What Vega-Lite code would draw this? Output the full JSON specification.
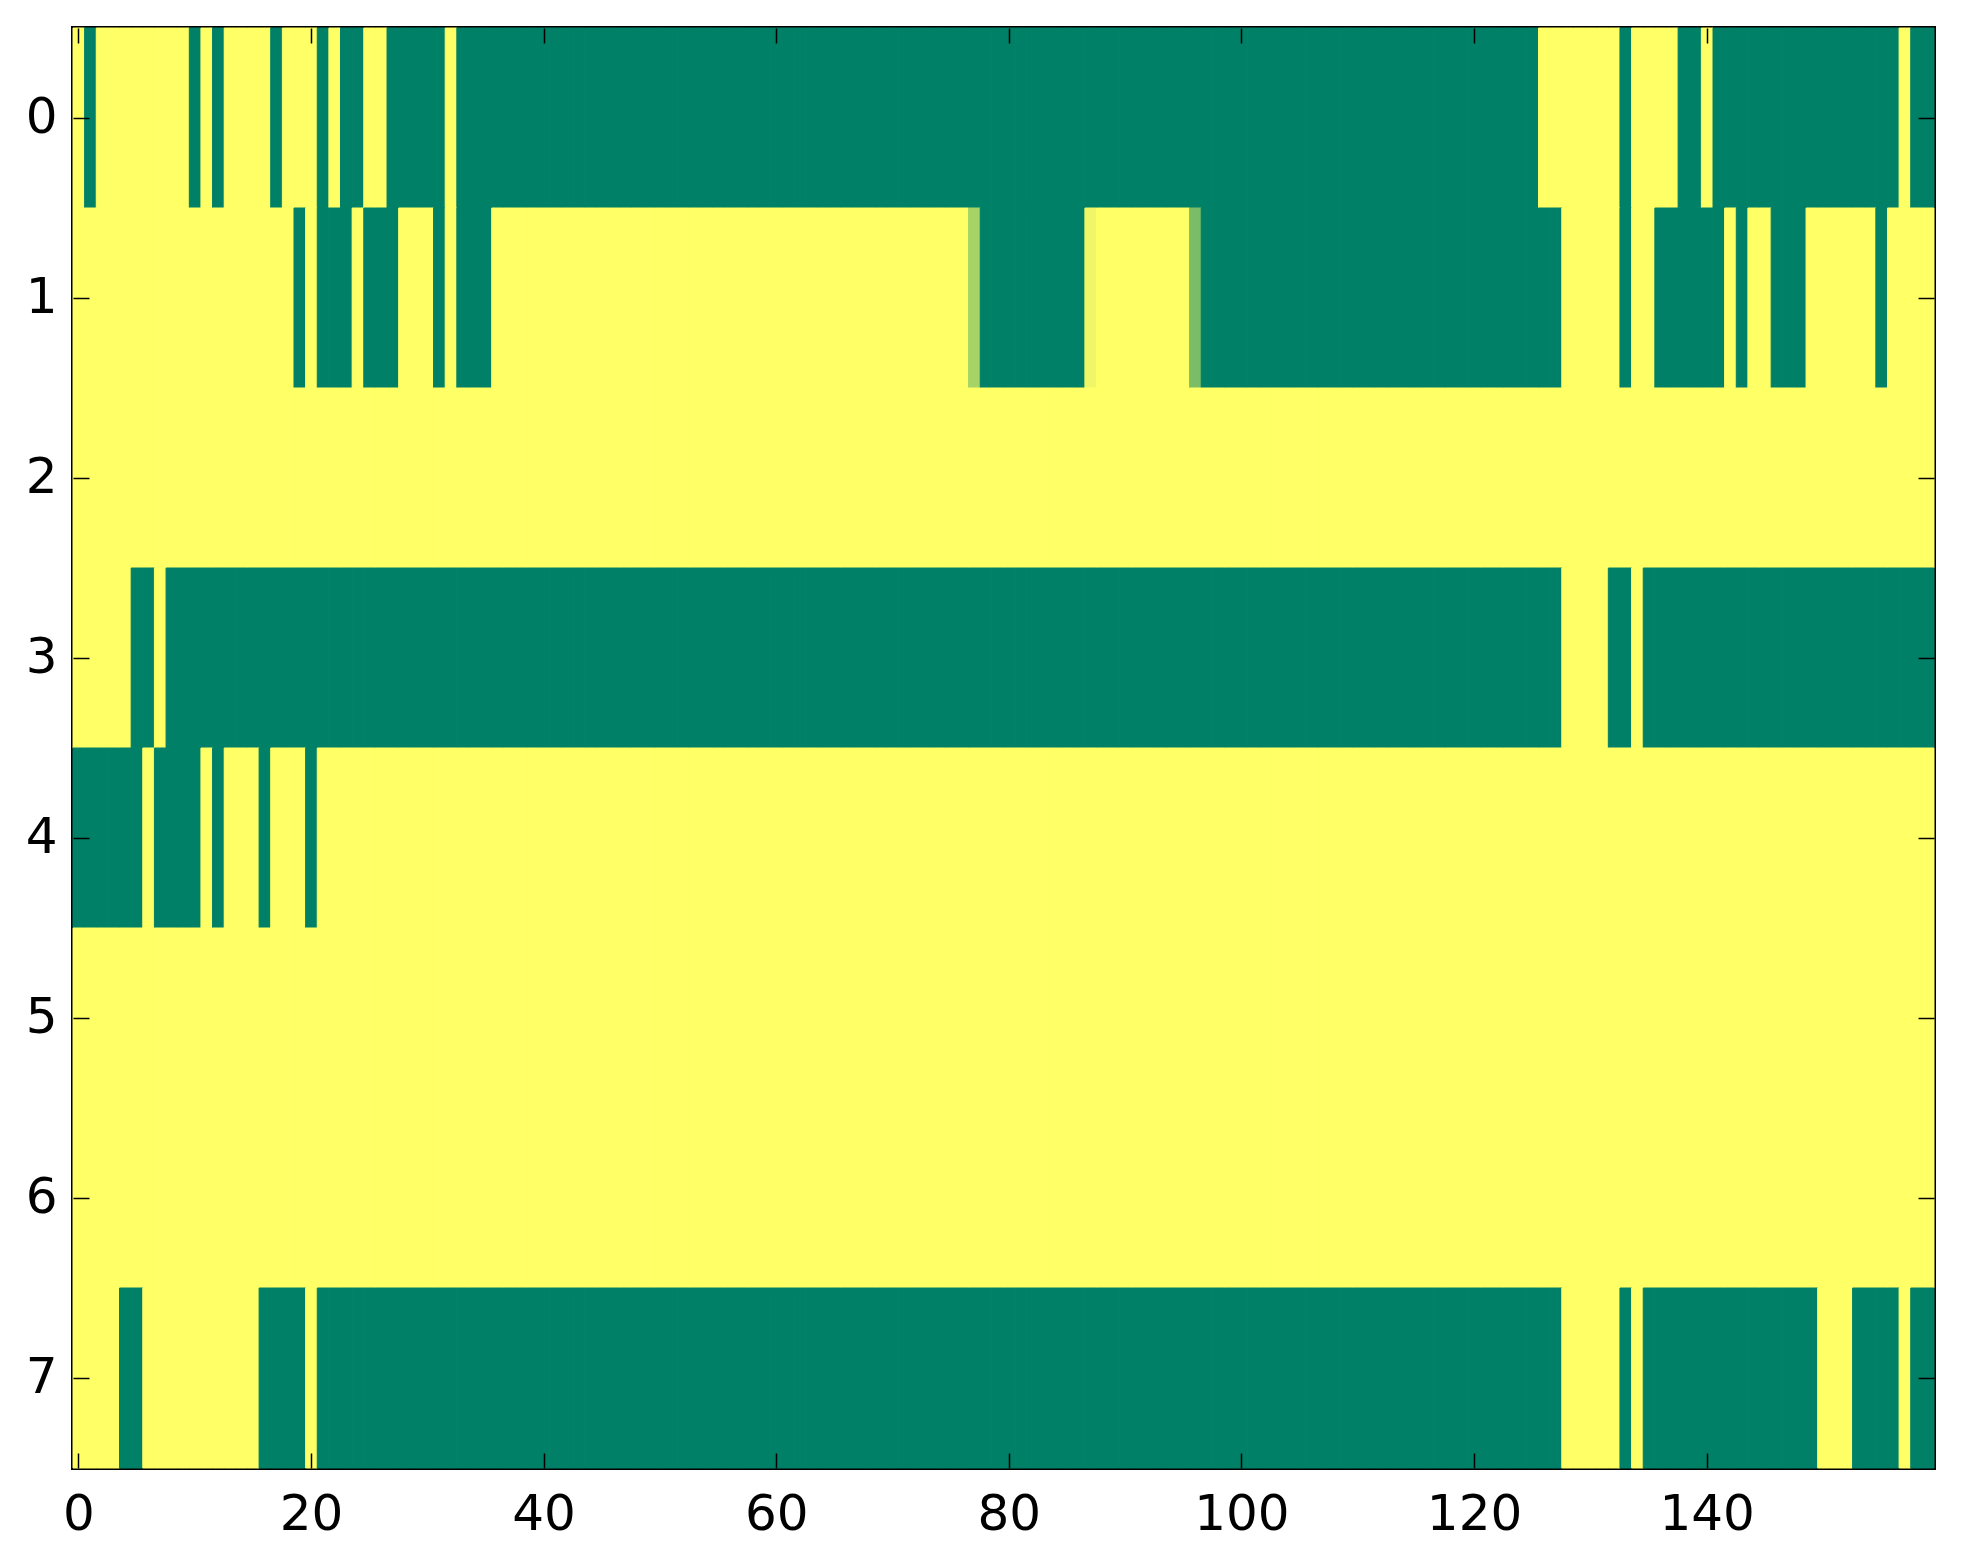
{
  "$schema": "https://vega.github.io/schema/vega-lite/v6.json",
  "width": 1861,
  "height": 1440,
  "autosize": "none",
  "padding": {"left": 73, "top": 28, "right": 29, "bottom": 96},
  "background": "white",
  "data": {"values": [
{"r":0,"c":0,"v":1},{"r":0,"c":1,"v":0},{"r":0,"c":2,"v":1},{"r":0,"c":3,"v":1},{"r":0,"c":4,"v":1},{"r":0,"c":5,"v":1},{"r":0,"c":6,"v":1},{"r":0,"c":7,"v":1},{"r":0,"c":8,"v":1},{"r":0,"c":9,"v":1},
{"r":0,"c":10,"v":0},{"r":0,"c":11,"v":1},{"r":0,"c":12,"v":0},{"r":0,"c":13,"v":1},{"r":0,"c":14,"v":1},{"r":0,"c":15,"v":1},{"r":0,"c":16,"v":1},{"r":0,"c":17,"v":0},{"r":0,"c":18,"v":1},{"r":0,"c":19,"v":1},
{"r":0,"c":20,"v":1},{"r":0,"c":21,"v":0},{"r":0,"c":22,"v":1},{"r":0,"c":23,"v":0},{"r":0,"c":24,"v":0},{"r":0,"c":25,"v":1},{"r":0,"c":26,"v":1},{"r":0,"c":27,"v":0},{"r":0,"c":28,"v":0},{"r":0,"c":29,"v":0},
{"r":0,"c":30,"v":0},{"r":0,"c":31,"v":0},{"r":0,"c":32,"v":1},{"r":0,"c":33,"v":0},{"r":0,"c":34,"v":0},{"r":0,"c":35,"v":0},{"r":0,"c":36,"v":0},{"r":0,"c":37,"v":0},{"r":0,"c":38,"v":0},{"r":0,"c":39,"v":0},
{"r":0,"c":40,"v":0},{"r":0,"c":41,"v":0},{"r":0,"c":42,"v":0},{"r":0,"c":43,"v":0},{"r":0,"c":44,"v":0},{"r":0,"c":45,"v":0},{"r":0,"c":46,"v":0},{"r":0,"c":47,"v":0},{"r":0,"c":48,"v":0},{"r":0,"c":49,"v":0},
{"r":0,"c":50,"v":0},{"r":0,"c":51,"v":0},{"r":0,"c":52,"v":0},{"r":0,"c":53,"v":0},{"r":0,"c":54,"v":0},{"r":0,"c":55,"v":0},{"r":0,"c":56,"v":0},{"r":0,"c":57,"v":0},{"r":0,"c":58,"v":0},{"r":0,"c":59,"v":0},
{"r":0,"c":60,"v":0},{"r":0,"c":61,"v":0},{"r":0,"c":62,"v":0},{"r":0,"c":63,"v":0},{"r":0,"c":64,"v":0},{"r":0,"c":65,"v":0},{"r":0,"c":66,"v":0},{"r":0,"c":67,"v":0},{"r":0,"c":68,"v":0},{"r":0,"c":69,"v":0},
{"r":0,"c":70,"v":0},{"r":0,"c":71,"v":0},{"r":0,"c":72,"v":0},{"r":0,"c":73,"v":0},{"r":0,"c":74,"v":0},{"r":0,"c":75,"v":0},{"r":0,"c":76,"v":0},{"r":0,"c":77,"v":0},{"r":0,"c":78,"v":0},{"r":0,"c":79,"v":0},
{"r":0,"c":80,"v":0},{"r":0,"c":81,"v":0},{"r":0,"c":82,"v":0},{"r":0,"c":83,"v":0},{"r":0,"c":84,"v":0},{"r":0,"c":85,"v":0},{"r":0,"c":86,"v":0},{"r":0,"c":87,"v":0},{"r":0,"c":88,"v":0},{"r":0,"c":89,"v":0},
{"r":0,"c":90,"v":0},{"r":0,"c":91,"v":0},{"r":0,"c":92,"v":0},{"r":0,"c":93,"v":0},{"r":0,"c":94,"v":0},{"r":0,"c":95,"v":0},{"r":0,"c":96,"v":0},{"r":0,"c":97,"v":0},{"r":0,"c":98,"v":0},{"r":0,"c":99,"v":0},
{"r":0,"c":100,"v":0},{"r":0,"c":101,"v":0},{"r":0,"c":102,"v":0},{"r":0,"c":103,"v":0},{"r":0,"c":104,"v":0},{"r":0,"c":105,"v":0},{"r":0,"c":106,"v":0},{"r":0,"c":107,"v":0},{"r":0,"c":108,"v":0},{"r":0,"c":109,"v":0},
{"r":0,"c":110,"v":0},{"r":0,"c":111,"v":0},{"r":0,"c":112,"v":0},{"r":0,"c":113,"v":0},{"r":0,"c":114,"v":0},{"r":0,"c":115,"v":0},{"r":0,"c":116,"v":0},{"r":0,"c":117,"v":0},{"r":0,"c":118,"v":0},{"r":0,"c":119,"v":0},
{"r":0,"c":120,"v":0},{"r":0,"c":121,"v":0},{"r":0,"c":122,"v":0},{"r":0,"c":123,"v":0},{"r":0,"c":124,"v":0},{"r":0,"c":125,"v":0},{"r":0,"c":126,"v":1},{"r":0,"c":127,"v":1},{"r":0,"c":128,"v":1},{"r":0,"c":129,"v":1},
{"r":0,"c":130,"v":1},{"r":0,"c":131,"v":1},{"r":0,"c":132,"v":1},{"r":0,"c":133,"v":0},{"r":0,"c":134,"v":1},{"r":0,"c":135,"v":1},{"r":0,"c":136,"v":1},{"r":0,"c":137,"v":1},{"r":0,"c":138,"v":0},{"r":0,"c":139,"v":0},
{"r":0,"c":140,"v":1},{"r":0,"c":141,"v":0},{"r":0,"c":142,"v":0},{"r":0,"c":143,"v":0},{"r":0,"c":144,"v":0},{"r":0,"c":145,"v":0},{"r":0,"c":146,"v":0},{"r":0,"c":147,"v":0},{"r":0,"c":148,"v":0},{"r":0,"c":149,"v":0},
{"r":0,"c":150,"v":0},{"r":0,"c":151,"v":0},{"r":0,"c":152,"v":0},{"r":0,"c":153,"v":0},{"r":0,"c":154,"v":0},{"r":0,"c":155,"v":0},{"r":0,"c":156,"v":0},{"r":0,"c":157,"v":1},{"r":0,"c":158,"v":0},{"r":0,"c":159,"v":0},
{"r":1,"c":0,"v":1},{"r":1,"c":1,"v":1},{"r":1,"c":2,"v":1},{"r":1,"c":3,"v":1},{"r":1,"c":4,"v":1},{"r":1,"c":5,"v":1},{"r":1,"c":6,"v":1},{"r":1,"c":7,"v":1},{"r":1,"c":8,"v":1},{"r":1,"c":9,"v":1},
{"r":1,"c":10,"v":1},{"r":1,"c":11,"v":1},{"r":1,"c":12,"v":1},{"r":1,"c":13,"v":1},{"r":1,"c":14,"v":1},{"r":1,"c":15,"v":1},{"r":1,"c":16,"v":1},{"r":1,"c":17,"v":1},{"r":1,"c":18,"v":1},{"r":1,"c":19,"v":0},
{"r":1,"c":20,"v":1},{"r":1,"c":21,"v":0},{"r":1,"c":22,"v":0},{"r":1,"c":23,"v":0},{"r":1,"c":24,"v":1},{"r":1,"c":25,"v":0},{"r":1,"c":26,"v":0},{"r":1,"c":27,"v":0},{"r":1,"c":28,"v":1},{"r":1,"c":29,"v":1},
{"r":1,"c":30,"v":1},{"r":1,"c":31,"v":0},{"r":1,"c":32,"v":1},{"r":1,"c":33,"v":0},{"r":1,"c":34,"v":0},{"r":1,"c":35,"v":0},{"r":1,"c":36,"v":1},{"r":1,"c":37,"v":1},{"r":1,"c":38,"v":1},{"r":1,"c":39,"v":1},
{"r":1,"c":40,"v":1},{"r":1,"c":41,"v":1},{"r":1,"c":42,"v":1},{"r":1,"c":43,"v":1},{"r":1,"c":44,"v":1},{"r":1,"c":45,"v":1},{"r":1,"c":46,"v":1},{"r":1,"c":47,"v":1},{"r":1,"c":48,"v":1},{"r":1,"c":49,"v":1},
{"r":1,"c":50,"v":1},{"r":1,"c":51,"v":1},{"r":1,"c":52,"v":1},{"r":1,"c":53,"v":1},{"r":1,"c":54,"v":1},{"r":1,"c":55,"v":1},{"r":1,"c":56,"v":1},{"r":1,"c":57,"v":1},{"r":1,"c":58,"v":1},{"r":1,"c":59,"v":1},
{"r":1,"c":60,"v":1},{"r":1,"c":61,"v":1},{"r":1,"c":62,"v":1},{"r":1,"c":63,"v":1},{"r":1,"c":64,"v":1},{"r":1,"c":65,"v":1},{"r":1,"c":66,"v":1},{"r":1,"c":67,"v":1},{"r":1,"c":68,"v":1},{"r":1,"c":69,"v":1},
{"r":1,"c":70,"v":1},{"r":1,"c":71,"v":1},{"r":1,"c":72,"v":1},{"r":1,"c":73,"v":1},{"r":1,"c":74,"v":1},{"r":1,"c":75,"v":1},{"r":1,"c":76,"v":1},{"r":1,"c":77,"v":0.65},{"r":1,"c":78,"v":0},{"r":1,"c":79,"v":0},
{"r":1,"c":80,"v":0},{"r":1,"c":81,"v":0},{"r":1,"c":82,"v":0},{"r":1,"c":83,"v":0},{"r":1,"c":84,"v":0},{"r":1,"c":85,"v":0},{"r":1,"c":86,"v":0},{"r":1,"c":87,"v":0.94},{"r":1,"c":88,"v":1},{"r":1,"c":89,"v":1},
{"r":1,"c":90,"v":1},{"r":1,"c":91,"v":1},{"r":1,"c":92,"v":1},{"r":1,"c":93,"v":1},{"r":1,"c":94,"v":1},{"r":1,"c":95,"v":1},{"r":1,"c":96,"v":0.48},{"r":1,"c":97,"v":0},{"r":1,"c":98,"v":0},{"r":1,"c":99,"v":0},
{"r":1,"c":100,"v":0},{"r":1,"c":101,"v":0},{"r":1,"c":102,"v":0},{"r":1,"c":103,"v":0},{"r":1,"c":104,"v":0},{"r":1,"c":105,"v":0},{"r":1,"c":106,"v":0},{"r":1,"c":107,"v":0},{"r":1,"c":108,"v":0},{"r":1,"c":109,"v":0},
{"r":1,"c":110,"v":0},{"r":1,"c":111,"v":0},{"r":1,"c":112,"v":0},{"r":1,"c":113,"v":0},{"r":1,"c":114,"v":0},{"r":1,"c":115,"v":0},{"r":1,"c":116,"v":0},{"r":1,"c":117,"v":0},{"r":1,"c":118,"v":0},{"r":1,"c":119,"v":0},
{"r":1,"c":120,"v":0},{"r":1,"c":121,"v":0},{"r":1,"c":122,"v":0},{"r":1,"c":123,"v":0},{"r":1,"c":124,"v":0},{"r":1,"c":125,"v":0},{"r":1,"c":126,"v":0},{"r":1,"c":127,"v":0},{"r":1,"c":128,"v":1},{"r":1,"c":129,"v":1},
{"r":1,"c":130,"v":1},{"r":1,"c":131,"v":1},{"r":1,"c":132,"v":1},{"r":1,"c":133,"v":0},{"r":1,"c":134,"v":1},{"r":1,"c":135,"v":1},{"r":1,"c":136,"v":0},{"r":1,"c":137,"v":0},{"r":1,"c":138,"v":0},{"r":1,"c":139,"v":0},
{"r":1,"c":140,"v":0},{"r":1,"c":141,"v":0},{"r":1,"c":142,"v":1},{"r":1,"c":143,"v":0},{"r":1,"c":144,"v":1},{"r":1,"c":145,"v":1},{"r":1,"c":146,"v":0},{"r":1,"c":147,"v":0},{"r":1,"c":148,"v":0},{"r":1,"c":149,"v":1},
{"r":1,"c":150,"v":1},{"r":1,"c":151,"v":1},{"r":1,"c":152,"v":1},{"r":1,"c":153,"v":1},{"r":1,"c":154,"v":1},{"r":1,"c":155,"v":0},{"r":1,"c":156,"v":1},{"r":1,"c":157,"v":1},{"r":1,"c":158,"v":1},{"r":1,"c":159,"v":1},
{"r":2,"c":0,"v":1},{"r":2,"c":1,"v":1},{"r":2,"c":2,"v":1},{"r":2,"c":3,"v":1},{"r":2,"c":4,"v":1},{"r":2,"c":5,"v":1},{"r":2,"c":6,"v":1},{"r":2,"c":7,"v":1},{"r":2,"c":8,"v":1},{"r":2,"c":9,"v":1},
{"r":2,"c":10,"v":1},{"r":2,"c":11,"v":1},{"r":2,"c":12,"v":1},{"r":2,"c":13,"v":1},{"r":2,"c":14,"v":1},{"r":2,"c":15,"v":1},{"r":2,"c":16,"v":1},{"r":2,"c":17,"v":1},{"r":2,"c":18,"v":1},{"r":2,"c":19,"v":1},
{"r":2,"c":20,"v":1},{"r":2,"c":21,"v":1},{"r":2,"c":22,"v":1},{"r":2,"c":23,"v":1},{"r":2,"c":24,"v":1},{"r":2,"c":25,"v":1},{"r":2,"c":26,"v":1},{"r":2,"c":27,"v":1},{"r":2,"c":28,"v":1},{"r":2,"c":29,"v":1},
{"r":2,"c":30,"v":1},{"r":2,"c":31,"v":1},{"r":2,"c":32,"v":1},{"r":2,"c":33,"v":1},{"r":2,"c":34,"v":1},{"r":2,"c":35,"v":1},{"r":2,"c":36,"v":1},{"r":2,"c":37,"v":1},{"r":2,"c":38,"v":1},{"r":2,"c":39,"v":1},
{"r":2,"c":40,"v":1},{"r":2,"c":41,"v":1},{"r":2,"c":42,"v":1},{"r":2,"c":43,"v":1},{"r":2,"c":44,"v":1},{"r":2,"c":45,"v":1},{"r":2,"c":46,"v":1},{"r":2,"c":47,"v":1},{"r":2,"c":48,"v":1},{"r":2,"c":49,"v":1},
{"r":2,"c":50,"v":1},{"r":2,"c":51,"v":1},{"r":2,"c":52,"v":1},{"r":2,"c":53,"v":1},{"r":2,"c":54,"v":1},{"r":2,"c":55,"v":1},{"r":2,"c":56,"v":1},{"r":2,"c":57,"v":1},{"r":2,"c":58,"v":1},{"r":2,"c":59,"v":1},
{"r":2,"c":60,"v":1},{"r":2,"c":61,"v":1},{"r":2,"c":62,"v":1},{"r":2,"c":63,"v":1},{"r":2,"c":64,"v":1},{"r":2,"c":65,"v":1},{"r":2,"c":66,"v":1},{"r":2,"c":67,"v":1},{"r":2,"c":68,"v":1},{"r":2,"c":69,"v":1},
{"r":2,"c":70,"v":1},{"r":2,"c":71,"v":1},{"r":2,"c":72,"v":1},{"r":2,"c":73,"v":1},{"r":2,"c":74,"v":1},{"r":2,"c":75,"v":1},{"r":2,"c":76,"v":1},{"r":2,"c":77,"v":1},{"r":2,"c":78,"v":1},{"r":2,"c":79,"v":1},
{"r":2,"c":80,"v":1},{"r":2,"c":81,"v":1},{"r":2,"c":82,"v":1},{"r":2,"c":83,"v":1},{"r":2,"c":84,"v":1},{"r":2,"c":85,"v":1},{"r":2,"c":86,"v":1},{"r":2,"c":87,"v":1},{"r":2,"c":88,"v":1},{"r":2,"c":89,"v":1},
{"r":2,"c":90,"v":1},{"r":2,"c":91,"v":1},{"r":2,"c":92,"v":1},{"r":2,"c":93,"v":1},{"r":2,"c":94,"v":1},{"r":2,"c":95,"v":1},{"r":2,"c":96,"v":1},{"r":2,"c":97,"v":1},{"r":2,"c":98,"v":1},{"r":2,"c":99,"v":1},
{"r":2,"c":100,"v":1},{"r":2,"c":101,"v":1},{"r":2,"c":102,"v":1},{"r":2,"c":103,"v":1},{"r":2,"c":104,"v":1},{"r":2,"c":105,"v":1},{"r":2,"c":106,"v":1},{"r":2,"c":107,"v":1},{"r":2,"c":108,"v":1},{"r":2,"c":109,"v":1},
{"r":2,"c":110,"v":1},{"r":2,"c":111,"v":1},{"r":2,"c":112,"v":1},{"r":2,"c":113,"v":1},{"r":2,"c":114,"v":1},{"r":2,"c":115,"v":1},{"r":2,"c":116,"v":1},{"r":2,"c":117,"v":1},{"r":2,"c":118,"v":1},{"r":2,"c":119,"v":1},
{"r":2,"c":120,"v":1},{"r":2,"c":121,"v":1},{"r":2,"c":122,"v":1},{"r":2,"c":123,"v":1},{"r":2,"c":124,"v":1},{"r":2,"c":125,"v":1},{"r":2,"c":126,"v":1},{"r":2,"c":127,"v":1},{"r":2,"c":128,"v":1},{"r":2,"c":129,"v":1},
{"r":2,"c":130,"v":1},{"r":2,"c":131,"v":1},{"r":2,"c":132,"v":1},{"r":2,"c":133,"v":1},{"r":2,"c":134,"v":1},{"r":2,"c":135,"v":1},{"r":2,"c":136,"v":1},{"r":2,"c":137,"v":1},{"r":2,"c":138,"v":1},{"r":2,"c":139,"v":1},
{"r":2,"c":140,"v":1},{"r":2,"c":141,"v":1},{"r":2,"c":142,"v":1},{"r":2,"c":143,"v":1},{"r":2,"c":144,"v":1},{"r":2,"c":145,"v":1},{"r":2,"c":146,"v":1},{"r":2,"c":147,"v":1},{"r":2,"c":148,"v":1},{"r":2,"c":149,"v":1},
{"r":2,"c":150,"v":1},{"r":2,"c":151,"v":1},{"r":2,"c":152,"v":1},{"r":2,"c":153,"v":1},{"r":2,"c":154,"v":1},{"r":2,"c":155,"v":1},{"r":2,"c":156,"v":1},{"r":2,"c":157,"v":1},{"r":2,"c":158,"v":1},{"r":2,"c":159,"v":1},
{"r":3,"c":0,"v":1},{"r":3,"c":1,"v":1},{"r":3,"c":2,"v":1},{"r":3,"c":3,"v":1},{"r":3,"c":4,"v":1},{"r":3,"c":5,"v":0},{"r":3,"c":6,"v":0},{"r":3,"c":7,"v":1},{"r":3,"c":8,"v":0},{"r":3,"c":9,"v":0},
{"r":3,"c":10,"v":0},{"r":3,"c":11,"v":0},{"r":3,"c":12,"v":0},{"r":3,"c":13,"v":0},{"r":3,"c":14,"v":0},{"r":3,"c":15,"v":0},{"r":3,"c":16,"v":0},{"r":3,"c":17,"v":0},{"r":3,"c":18,"v":0},{"r":3,"c":19,"v":0},
{"r":3,"c":20,"v":0},{"r":3,"c":21,"v":0},{"r":3,"c":22,"v":0},{"r":3,"c":23,"v":0},{"r":3,"c":24,"v":0},{"r":3,"c":25,"v":0},{"r":3,"c":26,"v":0},{"r":3,"c":27,"v":0},{"r":3,"c":28,"v":0},{"r":3,"c":29,"v":0},
{"r":3,"c":30,"v":0},{"r":3,"c":31,"v":0},{"r":3,"c":32,"v":0},{"r":3,"c":33,"v":0},{"r":3,"c":34,"v":0},{"r":3,"c":35,"v":0},{"r":3,"c":36,"v":0},{"r":3,"c":37,"v":0},{"r":3,"c":38,"v":0},{"r":3,"c":39,"v":0},
{"r":3,"c":40,"v":0},{"r":3,"c":41,"v":0},{"r":3,"c":42,"v":0},{"r":3,"c":43,"v":0},{"r":3,"c":44,"v":0},{"r":3,"c":45,"v":0},{"r":3,"c":46,"v":0},{"r":3,"c":47,"v":0},{"r":3,"c":48,"v":0},{"r":3,"c":49,"v":0},
{"r":3,"c":50,"v":0},{"r":3,"c":51,"v":0},{"r":3,"c":52,"v":0},{"r":3,"c":53,"v":0},{"r":3,"c":54,"v":0},{"r":3,"c":55,"v":0},{"r":3,"c":56,"v":0},{"r":3,"c":57,"v":0},{"r":3,"c":58,"v":0},{"r":3,"c":59,"v":0},
{"r":3,"c":60,"v":0},{"r":3,"c":61,"v":0},{"r":3,"c":62,"v":0},{"r":3,"c":63,"v":0},{"r":3,"c":64,"v":0},{"r":3,"c":65,"v":0},{"r":3,"c":66,"v":0},{"r":3,"c":67,"v":0},{"r":3,"c":68,"v":0},{"r":3,"c":69,"v":0},
{"r":3,"c":70,"v":0},{"r":3,"c":71,"v":0},{"r":3,"c":72,"v":0},{"r":3,"c":73,"v":0},{"r":3,"c":74,"v":0},{"r":3,"c":75,"v":0},{"r":3,"c":76,"v":0},{"r":3,"c":77,"v":0},{"r":3,"c":78,"v":0},{"r":3,"c":79,"v":0},
{"r":3,"c":80,"v":0},{"r":3,"c":81,"v":0},{"r":3,"c":82,"v":0},{"r":3,"c":83,"v":0},{"r":3,"c":84,"v":0},{"r":3,"c":85,"v":0},{"r":3,"c":86,"v":0},{"r":3,"c":87,"v":0},{"r":3,"c":88,"v":0},{"r":3,"c":89,"v":0},
{"r":3,"c":90,"v":0},{"r":3,"c":91,"v":0},{"r":3,"c":92,"v":0},{"r":3,"c":93,"v":0},{"r":3,"c":94,"v":0},{"r":3,"c":95,"v":0},{"r":3,"c":96,"v":0},{"r":3,"c":97,"v":0},{"r":3,"c":98,"v":0},{"r":3,"c":99,"v":0},
{"r":3,"c":100,"v":0},{"r":3,"c":101,"v":0},{"r":3,"c":102,"v":0},{"r":3,"c":103,"v":0},{"r":3,"c":104,"v":0},{"r":3,"c":105,"v":0},{"r":3,"c":106,"v":0},{"r":3,"c":107,"v":0},{"r":3,"c":108,"v":0},{"r":3,"c":109,"v":0},
{"r":3,"c":110,"v":0},{"r":3,"c":111,"v":0},{"r":3,"c":112,"v":0},{"r":3,"c":113,"v":0},{"r":3,"c":114,"v":0},{"r":3,"c":115,"v":0},{"r":3,"c":116,"v":0},{"r":3,"c":117,"v":0},{"r":3,"c":118,"v":0},{"r":3,"c":119,"v":0},
{"r":3,"c":120,"v":0},{"r":3,"c":121,"v":0},{"r":3,"c":122,"v":0},{"r":3,"c":123,"v":0},{"r":3,"c":124,"v":0},{"r":3,"c":125,"v":0},{"r":3,"c":126,"v":0},{"r":3,"c":127,"v":0},{"r":3,"c":128,"v":1},{"r":3,"c":129,"v":1},
{"r":3,"c":130,"v":1},{"r":3,"c":131,"v":1},{"r":3,"c":132,"v":0},{"r":3,"c":133,"v":0},{"r":3,"c":134,"v":1},{"r":3,"c":135,"v":0},{"r":3,"c":136,"v":0},{"r":3,"c":137,"v":0},{"r":3,"c":138,"v":0},{"r":3,"c":139,"v":0},
{"r":3,"c":140,"v":0},{"r":3,"c":141,"v":0},{"r":3,"c":142,"v":0},{"r":3,"c":143,"v":0},{"r":3,"c":144,"v":0},{"r":3,"c":145,"v":0},{"r":3,"c":146,"v":0},{"r":3,"c":147,"v":0},{"r":3,"c":148,"v":0},{"r":3,"c":149,"v":0},
{"r":3,"c":150,"v":0},{"r":3,"c":151,"v":0},{"r":3,"c":152,"v":0},{"r":3,"c":153,"v":0},{"r":3,"c":154,"v":0},{"r":3,"c":155,"v":0},{"r":3,"c":156,"v":0},{"r":3,"c":157,"v":0},{"r":3,"c":158,"v":0},{"r":3,"c":159,"v":0},
{"r":4,"c":0,"v":0},{"r":4,"c":1,"v":0},{"r":4,"c":2,"v":0},{"r":4,"c":3,"v":0},{"r":4,"c":4,"v":0},{"r":4,"c":5,"v":0},{"r":4,"c":6,"v":1},{"r":4,"c":7,"v":0},{"r":4,"c":8,"v":0},{"r":4,"c":9,"v":0},
{"r":4,"c":10,"v":0},{"r":4,"c":11,"v":1},{"r":4,"c":12,"v":0},{"r":4,"c":13,"v":1},{"r":4,"c":14,"v":1},{"r":4,"c":15,"v":1},{"r":4,"c":16,"v":0},{"r":4,"c":17,"v":1},{"r":4,"c":18,"v":1},{"r":4,"c":19,"v":1},
{"r":4,"c":20,"v":0},{"r":4,"c":21,"v":1},{"r":4,"c":22,"v":1},{"r":4,"c":23,"v":1},{"r":4,"c":24,"v":1},{"r":4,"c":25,"v":1},{"r":4,"c":26,"v":1},{"r":4,"c":27,"v":1},{"r":4,"c":28,"v":1},{"r":4,"c":29,"v":1},
{"r":4,"c":30,"v":1},{"r":4,"c":31,"v":1},{"r":4,"c":32,"v":1},{"r":4,"c":33,"v":1},{"r":4,"c":34,"v":1},{"r":4,"c":35,"v":1},{"r":4,"c":36,"v":1},{"r":4,"c":37,"v":1},{"r":4,"c":38,"v":1},{"r":4,"c":39,"v":1},
{"r":4,"c":40,"v":1},{"r":4,"c":41,"v":1},{"r":4,"c":42,"v":1},{"r":4,"c":43,"v":1},{"r":4,"c":44,"v":1},{"r":4,"c":45,"v":1},{"r":4,"c":46,"v":1},{"r":4,"c":47,"v":1},{"r":4,"c":48,"v":1},{"r":4,"c":49,"v":1},
{"r":4,"c":50,"v":1},{"r":4,"c":51,"v":1},{"r":4,"c":52,"v":1},{"r":4,"c":53,"v":1},{"r":4,"c":54,"v":1},{"r":4,"c":55,"v":1},{"r":4,"c":56,"v":1},{"r":4,"c":57,"v":1},{"r":4,"c":58,"v":1},{"r":4,"c":59,"v":1},
{"r":4,"c":60,"v":1},{"r":4,"c":61,"v":1},{"r":4,"c":62,"v":1},{"r":4,"c":63,"v":1},{"r":4,"c":64,"v":1},{"r":4,"c":65,"v":1},{"r":4,"c":66,"v":1},{"r":4,"c":67,"v":1},{"r":4,"c":68,"v":1},{"r":4,"c":69,"v":1},
{"r":4,"c":70,"v":1},{"r":4,"c":71,"v":1},{"r":4,"c":72,"v":1},{"r":4,"c":73,"v":1},{"r":4,"c":74,"v":1},{"r":4,"c":75,"v":1},{"r":4,"c":76,"v":1},{"r":4,"c":77,"v":1},{"r":4,"c":78,"v":1},{"r":4,"c":79,"v":1},
{"r":4,"c":80,"v":1},{"r":4,"c":81,"v":1},{"r":4,"c":82,"v":1},{"r":4,"c":83,"v":1},{"r":4,"c":84,"v":1},{"r":4,"c":85,"v":1},{"r":4,"c":86,"v":1},{"r":4,"c":87,"v":1},{"r":4,"c":88,"v":1},{"r":4,"c":89,"v":1},
{"r":4,"c":90,"v":1},{"r":4,"c":91,"v":1},{"r":4,"c":92,"v":1},{"r":4,"c":93,"v":1},{"r":4,"c":94,"v":1},{"r":4,"c":95,"v":1},{"r":4,"c":96,"v":1},{"r":4,"c":97,"v":1},{"r":4,"c":98,"v":1},{"r":4,"c":99,"v":1},
{"r":4,"c":100,"v":1},{"r":4,"c":101,"v":1},{"r":4,"c":102,"v":1},{"r":4,"c":103,"v":1},{"r":4,"c":104,"v":1},{"r":4,"c":105,"v":1},{"r":4,"c":106,"v":1},{"r":4,"c":107,"v":1},{"r":4,"c":108,"v":1},{"r":4,"c":109,"v":1},
{"r":4,"c":110,"v":1},{"r":4,"c":111,"v":1},{"r":4,"c":112,"v":1},{"r":4,"c":113,"v":1},{"r":4,"c":114,"v":1},{"r":4,"c":115,"v":1},{"r":4,"c":116,"v":1},{"r":4,"c":117,"v":1},{"r":4,"c":118,"v":1},{"r":4,"c":119,"v":1},
{"r":4,"c":120,"v":1},{"r":4,"c":121,"v":1},{"r":4,"c":122,"v":1},{"r":4,"c":123,"v":1},{"r":4,"c":124,"v":1},{"r":4,"c":125,"v":1},{"r":4,"c":126,"v":1},{"r":4,"c":127,"v":1},{"r":4,"c":128,"v":1},{"r":4,"c":129,"v":1},
{"r":4,"c":130,"v":1},{"r":4,"c":131,"v":1},{"r":4,"c":132,"v":1},{"r":4,"c":133,"v":1},{"r":4,"c":134,"v":1},{"r":4,"c":135,"v":1},{"r":4,"c":136,"v":1},{"r":4,"c":137,"v":1},{"r":4,"c":138,"v":1},{"r":4,"c":139,"v":1},
{"r":4,"c":140,"v":1},{"r":4,"c":141,"v":1},{"r":4,"c":142,"v":1},{"r":4,"c":143,"v":1},{"r":4,"c":144,"v":1},{"r":4,"c":145,"v":1},{"r":4,"c":146,"v":1},{"r":4,"c":147,"v":1},{"r":4,"c":148,"v":1},{"r":4,"c":149,"v":1},
{"r":4,"c":150,"v":1},{"r":4,"c":151,"v":1},{"r":4,"c":152,"v":1},{"r":4,"c":153,"v":1},{"r":4,"c":154,"v":1},{"r":4,"c":155,"v":1},{"r":4,"c":156,"v":1},{"r":4,"c":157,"v":1},{"r":4,"c":158,"v":1},{"r":4,"c":159,"v":1},
{"r":5,"c":0,"v":1},{"r":5,"c":1,"v":1},{"r":5,"c":2,"v":1},{"r":5,"c":3,"v":1},{"r":5,"c":4,"v":1},{"r":5,"c":5,"v":1},{"r":5,"c":6,"v":1},{"r":5,"c":7,"v":1},{"r":5,"c":8,"v":1},{"r":5,"c":9,"v":1},
{"r":5,"c":10,"v":1},{"r":5,"c":11,"v":1},{"r":5,"c":12,"v":1},{"r":5,"c":13,"v":1},{"r":5,"c":14,"v":1},{"r":5,"c":15,"v":1},{"r":5,"c":16,"v":1},{"r":5,"c":17,"v":1},{"r":5,"c":18,"v":1},{"r":5,"c":19,"v":1},
{"r":5,"c":20,"v":1},{"r":5,"c":21,"v":1},{"r":5,"c":22,"v":1},{"r":5,"c":23,"v":1},{"r":5,"c":24,"v":1},{"r":5,"c":25,"v":1},{"r":5,"c":26,"v":1},{"r":5,"c":27,"v":1},{"r":5,"c":28,"v":1},{"r":5,"c":29,"v":1},
{"r":5,"c":30,"v":1},{"r":5,"c":31,"v":1},{"r":5,"c":32,"v":1},{"r":5,"c":33,"v":1},{"r":5,"c":34,"v":1},{"r":5,"c":35,"v":1},{"r":5,"c":36,"v":1},{"r":5,"c":37,"v":1},{"r":5,"c":38,"v":1},{"r":5,"c":39,"v":1},
{"r":5,"c":40,"v":1},{"r":5,"c":41,"v":1},{"r":5,"c":42,"v":1},{"r":5,"c":43,"v":1},{"r":5,"c":44,"v":1},{"r":5,"c":45,"v":1},{"r":5,"c":46,"v":1},{"r":5,"c":47,"v":1},{"r":5,"c":48,"v":1},{"r":5,"c":49,"v":1},
{"r":5,"c":50,"v":1},{"r":5,"c":51,"v":1},{"r":5,"c":52,"v":1},{"r":5,"c":53,"v":1},{"r":5,"c":54,"v":1},{"r":5,"c":55,"v":1},{"r":5,"c":56,"v":1},{"r":5,"c":57,"v":1},{"r":5,"c":58,"v":1},{"r":5,"c":59,"v":1},
{"r":5,"c":60,"v":1},{"r":5,"c":61,"v":1},{"r":5,"c":62,"v":1},{"r":5,"c":63,"v":1},{"r":5,"c":64,"v":1},{"r":5,"c":65,"v":1},{"r":5,"c":66,"v":1},{"r":5,"c":67,"v":1},{"r":5,"c":68,"v":1},{"r":5,"c":69,"v":1},
{"r":5,"c":70,"v":1},{"r":5,"c":71,"v":1},{"r":5,"c":72,"v":1},{"r":5,"c":73,"v":1},{"r":5,"c":74,"v":1},{"r":5,"c":75,"v":1},{"r":5,"c":76,"v":1},{"r":5,"c":77,"v":1},{"r":5,"c":78,"v":1},{"r":5,"c":79,"v":1},
{"r":5,"c":80,"v":1},{"r":5,"c":81,"v":1},{"r":5,"c":82,"v":1},{"r":5,"c":83,"v":1},{"r":5,"c":84,"v":1},{"r":5,"c":85,"v":1},{"r":5,"c":86,"v":1},{"r":5,"c":87,"v":1},{"r":5,"c":88,"v":1},{"r":5,"c":89,"v":1},
{"r":5,"c":90,"v":1},{"r":5,"c":91,"v":1},{"r":5,"c":92,"v":1},{"r":5,"c":93,"v":1},{"r":5,"c":94,"v":1},{"r":5,"c":95,"v":1},{"r":5,"c":96,"v":1},{"r":5,"c":97,"v":1},{"r":5,"c":98,"v":1},{"r":5,"c":99,"v":1},
{"r":5,"c":100,"v":1},{"r":5,"c":101,"v":1},{"r":5,"c":102,"v":1},{"r":5,"c":103,"v":1},{"r":5,"c":104,"v":1},{"r":5,"c":105,"v":1},{"r":5,"c":106,"v":1},{"r":5,"c":107,"v":1},{"r":5,"c":108,"v":1},{"r":5,"c":109,"v":1},
{"r":5,"c":110,"v":1},{"r":5,"c":111,"v":1},{"r":5,"c":112,"v":1},{"r":5,"c":113,"v":1},{"r":5,"c":114,"v":1},{"r":5,"c":115,"v":1},{"r":5,"c":116,"v":1},{"r":5,"c":117,"v":1},{"r":5,"c":118,"v":1},{"r":5,"c":119,"v":1},
{"r":5,"c":120,"v":1},{"r":5,"c":121,"v":1},{"r":5,"c":122,"v":1},{"r":5,"c":123,"v":1},{"r":5,"c":124,"v":1},{"r":5,"c":125,"v":1},{"r":5,"c":126,"v":1},{"r":5,"c":127,"v":1},{"r":5,"c":128,"v":1},{"r":5,"c":129,"v":1},
{"r":5,"c":130,"v":1},{"r":5,"c":131,"v":1},{"r":5,"c":132,"v":1},{"r":5,"c":133,"v":1},{"r":5,"c":134,"v":1},{"r":5,"c":135,"v":1},{"r":5,"c":136,"v":1},{"r":5,"c":137,"v":1},{"r":5,"c":138,"v":1},{"r":5,"c":139,"v":1},
{"r":5,"c":140,"v":1},{"r":5,"c":141,"v":1},{"r":5,"c":142,"v":1},{"r":5,"c":143,"v":1},{"r":5,"c":144,"v":1},{"r":5,"c":145,"v":1},{"r":5,"c":146,"v":1},{"r":5,"c":147,"v":1},{"r":5,"c":148,"v":1},{"r":5,"c":149,"v":1},
{"r":5,"c":150,"v":1},{"r":5,"c":151,"v":1},{"r":5,"c":152,"v":1},{"r":5,"c":153,"v":1},{"r":5,"c":154,"v":1},{"r":5,"c":155,"v":1},{"r":5,"c":156,"v":1},{"r":5,"c":157,"v":1},{"r":5,"c":158,"v":1},{"r":5,"c":159,"v":1},
{"r":6,"c":0,"v":1},{"r":6,"c":1,"v":1},{"r":6,"c":2,"v":1},{"r":6,"c":3,"v":1},{"r":6,"c":4,"v":1},{"r":6,"c":5,"v":1},{"r":6,"c":6,"v":1},{"r":6,"c":7,"v":1},{"r":6,"c":8,"v":1},{"r":6,"c":9,"v":1},
{"r":6,"c":10,"v":1},{"r":6,"c":11,"v":1},{"r":6,"c":12,"v":1},{"r":6,"c":13,"v":1},{"r":6,"c":14,"v":1},{"r":6,"c":15,"v":1},{"r":6,"c":16,"v":1},{"r":6,"c":17,"v":1},{"r":6,"c":18,"v":1},{"r":6,"c":19,"v":1},
{"r":6,"c":20,"v":1},{"r":6,"c":21,"v":1},{"r":6,"c":22,"v":1},{"r":6,"c":23,"v":1},{"r":6,"c":24,"v":1},{"r":6,"c":25,"v":1},{"r":6,"c":26,"v":1},{"r":6,"c":27,"v":1},{"r":6,"c":28,"v":1},{"r":6,"c":29,"v":1},
{"r":6,"c":30,"v":1},{"r":6,"c":31,"v":1},{"r":6,"c":32,"v":1},{"r":6,"c":33,"v":1},{"r":6,"c":34,"v":1},{"r":6,"c":35,"v":1},{"r":6,"c":36,"v":1},{"r":6,"c":37,"v":1},{"r":6,"c":38,"v":1},{"r":6,"c":39,"v":1},
{"r":6,"c":40,"v":1},{"r":6,"c":41,"v":1},{"r":6,"c":42,"v":1},{"r":6,"c":43,"v":1},{"r":6,"c":44,"v":1},{"r":6,"c":45,"v":1},{"r":6,"c":46,"v":1},{"r":6,"c":47,"v":1},{"r":6,"c":48,"v":1},{"r":6,"c":49,"v":1},
{"r":6,"c":50,"v":1},{"r":6,"c":51,"v":1},{"r":6,"c":52,"v":1},{"r":6,"c":53,"v":1},{"r":6,"c":54,"v":1},{"r":6,"c":55,"v":1},{"r":6,"c":56,"v":1},{"r":6,"c":57,"v":1},{"r":6,"c":58,"v":1},{"r":6,"c":59,"v":1},
{"r":6,"c":60,"v":1},{"r":6,"c":61,"v":1},{"r":6,"c":62,"v":1},{"r":6,"c":63,"v":1},{"r":6,"c":64,"v":1},{"r":6,"c":65,"v":1},{"r":6,"c":66,"v":1},{"r":6,"c":67,"v":1},{"r":6,"c":68,"v":1},{"r":6,"c":69,"v":1},
{"r":6,"c":70,"v":1},{"r":6,"c":71,"v":1},{"r":6,"c":72,"v":1},{"r":6,"c":73,"v":1},{"r":6,"c":74,"v":1},{"r":6,"c":75,"v":1},{"r":6,"c":76,"v":1},{"r":6,"c":77,"v":1},{"r":6,"c":78,"v":1},{"r":6,"c":79,"v":1},
{"r":6,"c":80,"v":1},{"r":6,"c":81,"v":1},{"r":6,"c":82,"v":1},{"r":6,"c":83,"v":1},{"r":6,"c":84,"v":1},{"r":6,"c":85,"v":1},{"r":6,"c":86,"v":1},{"r":6,"c":87,"v":1},{"r":6,"c":88,"v":1},{"r":6,"c":89,"v":1},
{"r":6,"c":90,"v":1},{"r":6,"c":91,"v":1},{"r":6,"c":92,"v":1},{"r":6,"c":93,"v":1},{"r":6,"c":94,"v":1},{"r":6,"c":95,"v":1},{"r":6,"c":96,"v":1},{"r":6,"c":97,"v":1},{"r":6,"c":98,"v":1},{"r":6,"c":99,"v":1},
{"r":6,"c":100,"v":1},{"r":6,"c":101,"v":1},{"r":6,"c":102,"v":1},{"r":6,"c":103,"v":1},{"r":6,"c":104,"v":1},{"r":6,"c":105,"v":1},{"r":6,"c":106,"v":1},{"r":6,"c":107,"v":1},{"r":6,"c":108,"v":1},{"r":6,"c":109,"v":1},
{"r":6,"c":110,"v":1},{"r":6,"c":111,"v":1},{"r":6,"c":112,"v":1},{"r":6,"c":113,"v":1},{"r":6,"c":114,"v":1},{"r":6,"c":115,"v":1},{"r":6,"c":116,"v":1},{"r":6,"c":117,"v":1},{"r":6,"c":118,"v":1},{"r":6,"c":119,"v":1},
{"r":6,"c":120,"v":1},{"r":6,"c":121,"v":1},{"r":6,"c":122,"v":1},{"r":6,"c":123,"v":1},{"r":6,"c":124,"v":1},{"r":6,"c":125,"v":1},{"r":6,"c":126,"v":1},{"r":6,"c":127,"v":1},{"r":6,"c":128,"v":1},{"r":6,"c":129,"v":1},
{"r":6,"c":130,"v":1},{"r":6,"c":131,"v":1},{"r":6,"c":132,"v":1},{"r":6,"c":133,"v":1},{"r":6,"c":134,"v":1},{"r":6,"c":135,"v":1},{"r":6,"c":136,"v":1},{"r":6,"c":137,"v":1},{"r":6,"c":138,"v":1},{"r":6,"c":139,"v":1},
{"r":6,"c":140,"v":1},{"r":6,"c":141,"v":1},{"r":6,"c":142,"v":1},{"r":6,"c":143,"v":1},{"r":6,"c":144,"v":1},{"r":6,"c":145,"v":1},{"r":6,"c":146,"v":1},{"r":6,"c":147,"v":1},{"r":6,"c":148,"v":1},{"r":6,"c":149,"v":1},
{"r":6,"c":150,"v":1},{"r":6,"c":151,"v":1},{"r":6,"c":152,"v":1},{"r":6,"c":153,"v":1},{"r":6,"c":154,"v":1},{"r":6,"c":155,"v":1},{"r":6,"c":156,"v":1},{"r":6,"c":157,"v":1},{"r":6,"c":158,"v":1},{"r":6,"c":159,"v":1},
{"r":7,"c":0,"v":1},{"r":7,"c":1,"v":1},{"r":7,"c":2,"v":1},{"r":7,"c":3,"v":1},{"r":7,"c":4,"v":0},{"r":7,"c":5,"v":0},{"r":7,"c":6,"v":1},{"r":7,"c":7,"v":1},{"r":7,"c":8,"v":1},{"r":7,"c":9,"v":1},
{"r":7,"c":10,"v":1},{"r":7,"c":11,"v":1},{"r":7,"c":12,"v":1},{"r":7,"c":13,"v":1},{"r":7,"c":14,"v":1},{"r":7,"c":15,"v":1},{"r":7,"c":16,"v":0},{"r":7,"c":17,"v":0},{"r":7,"c":18,"v":0},{"r":7,"c":19,"v":0},
{"r":7,"c":20,"v":1},{"r":7,"c":21,"v":0},{"r":7,"c":22,"v":0},{"r":7,"c":23,"v":0},{"r":7,"c":24,"v":0},{"r":7,"c":25,"v":0},{"r":7,"c":26,"v":0},{"r":7,"c":27,"v":0},{"r":7,"c":28,"v":0},{"r":7,"c":29,"v":0},
{"r":7,"c":30,"v":0},{"r":7,"c":31,"v":0},{"r":7,"c":32,"v":0},{"r":7,"c":33,"v":0},{"r":7,"c":34,"v":0},{"r":7,"c":35,"v":0},{"r":7,"c":36,"v":0},{"r":7,"c":37,"v":0},{"r":7,"c":38,"v":0},{"r":7,"c":39,"v":0},
{"r":7,"c":40,"v":0},{"r":7,"c":41,"v":0},{"r":7,"c":42,"v":0},{"r":7,"c":43,"v":0},{"r":7,"c":44,"v":0},{"r":7,"c":45,"v":0},{"r":7,"c":46,"v":0},{"r":7,"c":47,"v":0},{"r":7,"c":48,"v":0},{"r":7,"c":49,"v":0},
{"r":7,"c":50,"v":0},{"r":7,"c":51,"v":0},{"r":7,"c":52,"v":0},{"r":7,"c":53,"v":0},{"r":7,"c":54,"v":0},{"r":7,"c":55,"v":0},{"r":7,"c":56,"v":0},{"r":7,"c":57,"v":0},{"r":7,"c":58,"v":0},{"r":7,"c":59,"v":0},
{"r":7,"c":60,"v":0},{"r":7,"c":61,"v":0},{"r":7,"c":62,"v":0},{"r":7,"c":63,"v":0},{"r":7,"c":64,"v":0},{"r":7,"c":65,"v":0},{"r":7,"c":66,"v":0},{"r":7,"c":67,"v":0},{"r":7,"c":68,"v":0},{"r":7,"c":69,"v":0},
{"r":7,"c":70,"v":0},{"r":7,"c":71,"v":0},{"r":7,"c":72,"v":0},{"r":7,"c":73,"v":0},{"r":7,"c":74,"v":0},{"r":7,"c":75,"v":0},{"r":7,"c":76,"v":0},{"r":7,"c":77,"v":0},{"r":7,"c":78,"v":0},{"r":7,"c":79,"v":0},
{"r":7,"c":80,"v":0},{"r":7,"c":81,"v":0},{"r":7,"c":82,"v":0},{"r":7,"c":83,"v":0},{"r":7,"c":84,"v":0},{"r":7,"c":85,"v":0},{"r":7,"c":86,"v":0},{"r":7,"c":87,"v":0},{"r":7,"c":88,"v":0},{"r":7,"c":89,"v":0},
{"r":7,"c":90,"v":0},{"r":7,"c":91,"v":0},{"r":7,"c":92,"v":0},{"r":7,"c":93,"v":0},{"r":7,"c":94,"v":0},{"r":7,"c":95,"v":0},{"r":7,"c":96,"v":0},{"r":7,"c":97,"v":0},{"r":7,"c":98,"v":0},{"r":7,"c":99,"v":0},
{"r":7,"c":100,"v":0},{"r":7,"c":101,"v":0},{"r":7,"c":102,"v":0},{"r":7,"c":103,"v":0},{"r":7,"c":104,"v":0},{"r":7,"c":105,"v":0},{"r":7,"c":106,"v":0},{"r":7,"c":107,"v":0},{"r":7,"c":108,"v":0},{"r":7,"c":109,"v":0},
{"r":7,"c":110,"v":0},{"r":7,"c":111,"v":0},{"r":7,"c":112,"v":0},{"r":7,"c":113,"v":0},{"r":7,"c":114,"v":0},{"r":7,"c":115,"v":0},{"r":7,"c":116,"v":0},{"r":7,"c":117,"v":0},{"r":7,"c":118,"v":0},{"r":7,"c":119,"v":0},
{"r":7,"c":120,"v":0},{"r":7,"c":121,"v":0},{"r":7,"c":122,"v":0},{"r":7,"c":123,"v":0},{"r":7,"c":124,"v":0},{"r":7,"c":125,"v":0},{"r":7,"c":126,"v":0},{"r":7,"c":127,"v":0},{"r":7,"c":128,"v":1},{"r":7,"c":129,"v":1},
{"r":7,"c":130,"v":1},{"r":7,"c":131,"v":1},{"r":7,"c":132,"v":1},{"r":7,"c":133,"v":0},{"r":7,"c":134,"v":1},{"r":7,"c":135,"v":0},{"r":7,"c":136,"v":0},{"r":7,"c":137,"v":0},{"r":7,"c":138,"v":0},{"r":7,"c":139,"v":0},
{"r":7,"c":140,"v":0},{"r":7,"c":141,"v":0},{"r":7,"c":142,"v":0},{"r":7,"c":143,"v":0},{"r":7,"c":144,"v":0},{"r":7,"c":145,"v":0},{"r":7,"c":146,"v":0},{"r":7,"c":147,"v":0},{"r":7,"c":148,"v":0},{"r":7,"c":149,"v":0},
{"r":7,"c":150,"v":1},{"r":7,"c":151,"v":1},{"r":7,"c":152,"v":1},{"r":7,"c":153,"v":0},{"r":7,"c":154,"v":0},{"r":7,"c":155,"v":0},{"r":7,"c":156,"v":0},{"r":7,"c":157,"v":1},{"r":7,"c":158,"v":0},{"r":7,"c":159,"v":0}
  ]},
  "encoding": {
    "x": {"field": "c", "type": "ordinal", "scale": {"paddingInner": 0, "paddingOuter": 0}},
    "y": {"field": "r", "type": "ordinal", "scale": {"paddingInner": 0, "paddingOuter": 0}}
  },
  "layer": [
    {
      "mark": {"type": "rect", "strokeWidth": 1},
      "encoding": {
        "x": {"field": "c", "type": "ordinal", "title": null,
          "axis": {"orient": "bottom", "values": [0, 20, 40, 60, 80, 100, 120, 140], "labelAngle": 0, "tickSize": -15, "labelPadding": 36}},
        "y": {"field": "r", "type": "ordinal", "title": null,
          "axis": {"orient": "left", "tickSize": -16, "labelPadding": 32}},
        "color": {"field": "v", "type": "quantitative", "legend": null,
          "scale": {"domain": [0, 1], "range": ["#008066", "#ffff66"], "interpolate": "rgb"}},
        "stroke": {"field": "v", "type": "quantitative", "legend": null,
          "scale": {"domain": [0, 1], "range": ["#008066", "#ffff66"], "interpolate": "rgb"}}
      }
    },
    {
      "mark": {"type": "rect", "opacity": 0},
      "encoding": {
        "x": {"field": "c", "type": "ordinal", "title": null,
          "axis": {"orient": "top", "values": [0, 20, 40, 60, 80, 100, 120, 140], "labels": false, "tickSize": -15}},
        "y": {"field": "r", "type": "ordinal", "title": null,
          "axis": {"orient": "right", "labels": false, "tickSize": -16}}
      }
    }
  ],
  "resolve": {"axis": {"x": "independent", "y": "independent"}},
  "config": {
    "font": "DejaVu Sans",
    "view": {"stroke": "#000000", "strokeWidth": 4},
    "axis": {
      "domain": false,
      "grid": false,
      "ticks": true,
      "tickColor": "#000000",
      "tickWidth": 1.5,
      "labelFont": "DejaVu Sans",
      "labelFontSize": 50,
      "labelColor": "#000000"
    }
  }
}
